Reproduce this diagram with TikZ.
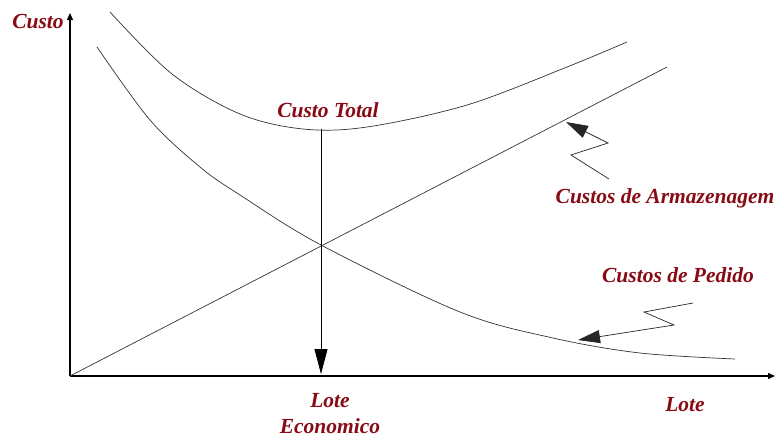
\documentclass[tikz,border=0pt]{standalone}
\usepackage{fontspec}
\setmainfont{Liberation Serif}
\usetikzlibrary{arrows.meta}
\definecolor{lbl}{RGB}{135,10,20}
\tikzset{
  lab/.style={text=lbl,font=\fontsize{21.5}{23}\selectfont\bfseries\itshape,inner sep=0pt},
  curve/.style={draw=black!80,line width=0.7pt},
  axis/.style={draw=black,line width=1.2pt,-{Triangle[length=7,width=6]}},
  bigarrow/.style={draw=black,line width=0.8pt,-{Triangle[length=25,width=13]}},
  pointer/.style={draw=black!85,line width=0.7pt,-{Triangle[length=22,width=13]}},
}
\begin{document}
\begin{tikzpicture}[x=1pt,y=-1pt]
\useasboundingbox (0,0) rectangle (777,437);
\coordinate (O) at (70,376);
\coordinate (Ytop) at (70,13);
\coordinate (Xend) at (775,376);
\draw[axis] (O) -- (Ytop);
\draw[axis] (O) -- (Xend);
% storage line
\coordinate (Send) at (667,67);
\draw[curve] (O) -- (Send);
% total cost curve
\draw[curve] plot[smooth,tension=0.55] coordinates {(110,12) (172,74) (240,114) (303,129) (367,127) (467,105) (567,67) (627,42)};
% ordering cost curve
\draw[curve] plot[smooth,tension=0.55] coordinates {(97,47) (150,120) (200,167) (240,195) (321,245) (460,312) (553,338) (640,353) (735,359)};
% vertical arrow
\coordinate (Vtop) at (321,129);
\coordinate (Vbot) at (321,374);
\draw[bigarrow] (Vtop) -- (Vbot);
% pointers
\coordinate (a1) at (609,179);
\coordinate (a2) at (571,155);
\coordinate (a3) at (608,143);
\coordinate (a4) at (566,122);
\draw[pointer] (a1) -- (a2) -- (a3) -- (a4);
\coordinate (b1) at (693,303);
\coordinate (b2) at (644,312);
\coordinate (b3) at (674,325);
\coordinate (b4) at (578,340);
\draw[pointer] (b1) -- (b2) -- (b3) -- (b4);
% labels
\node[lab] (custo) at (38,22) {Custo};
\node[lab] (total) at (328,110) {Custo Total};
\node[lab] (arm) at (665,198) {Custos de Armazenagem};
\node[lab] (ped) at (678,275) {Custos de Pedido};
\node[lab] (lote) at (685,405) {Lote};
\node[lab,align=center] (econ) at (330,414) {Lote\\[3pt]Economico};
\end{tikzpicture}
\end{document}
